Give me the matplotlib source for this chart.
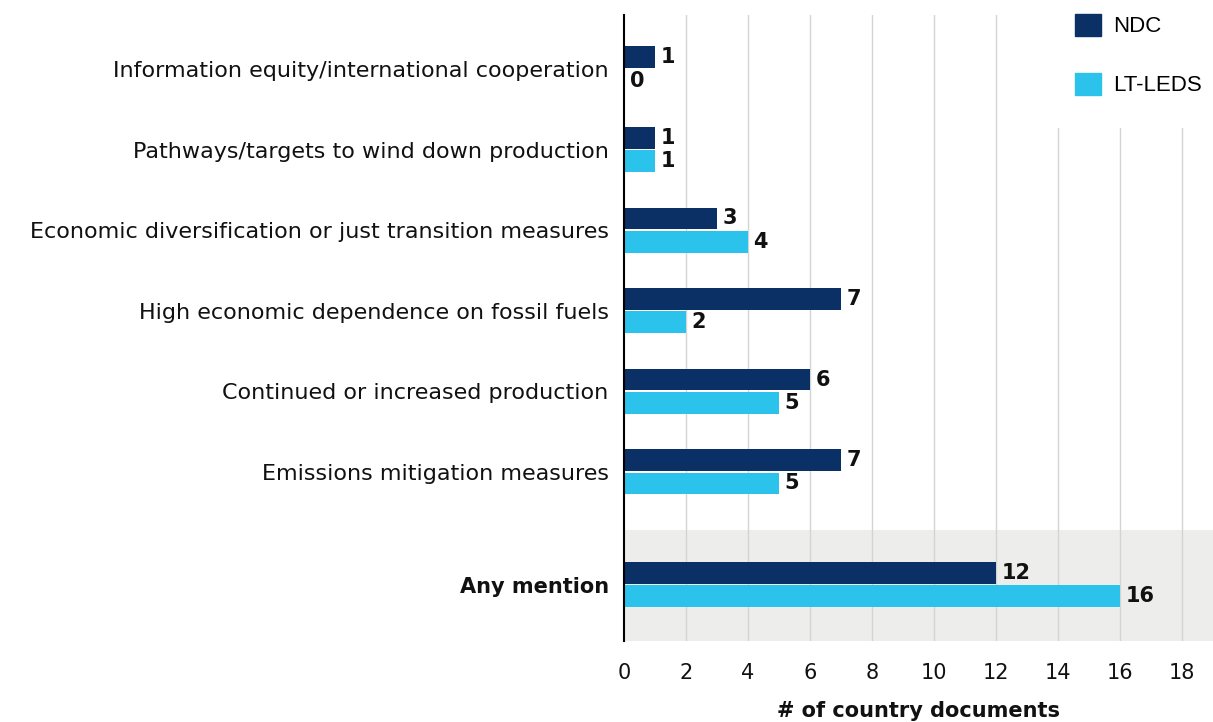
import matplotlib
matplotlib.use('Agg')
import matplotlib.pyplot as plt
import matplotlib.patches as mpatches
import numpy as np

# ── data ────────────────────────────────────────────────────────────────
categories = [
    'Information equity/international cooperation',
    'Pathways/targets to wind down production',
    'Economic diversification or just transition measures',
    'High economic dependence on fossil fuels',
    'Continued or increased production',
    'Emissions mitigation measures',
    'Any mention',
]
ndc = [1, 1, 3, 7, 6, 7, 12]
lt_leds = [0, 1, 4, 2, 5, 5, 16]
series_names = ['NDC', 'LT-LEDS']
xticks = [0, 2, 4, 6, 8, 10, 12, 14, 16, 18]

NDC_COL = '#0b3066'
LEDS_COL = '#2bc3eb'
FONT = 'DejaVu Sans'
FS = 15

fig = plt.figure(figsize=(12.13, 7.22), dpi=100)
ax = fig.add_axes([0.5144, 0.1122, 0.4856, 0.867])

# row positions: six rows one unit apart, "Any mention" set lower
ypos = np.array([0, 1, 2, 3, 4, 5, 6.4])
bh = 0.27
off = 0.145

ax.axhspan(5.72, 7.1, color='#ededeb', zorder=0, lw=0)
for x in xticks[1:]:
    ax.axvline(x, color='#d4d4d4', lw=1.0, zorder=0.5)
# white block behind the legend hides the top of the gridlines
ax.add_patch(mpatches.Rectangle((0.727, 0.8195), 0.3, 0.2, transform=ax.transAxes,
                                color='white', lw=0, zorder=1, clip_on=False))

ax.barh(ypos - off, ndc, height=bh, color=NDC_COL, zorder=2)
ax.barh(ypos + off, lt_leds, height=bh, color=LEDS_COL, zorder=2)

for y, v in zip(ypos - off, ndc):
    ax.annotate(str(v), xy=(v, y), xytext=(4, 0), textcoords='offset points',
                ha='left', va='center', fontsize=FS, fontweight='bold',
                family=FONT, color='#111111')
for y, v in zip(ypos + off, lt_leds):
    ax.annotate(str(v), xy=(v, y), xytext=(4, 0), textcoords='offset points',
                ha='left', va='center', fontsize=FS, fontweight='bold',
                family=FONT, color='#111111')

ax.set_xlim(0, 19)
ax.set_ylim(7.1, -0.67)
ax.set_yticks(ypos)
ax.set_yticklabels(categories, fontsize=16, family=FONT, color='#111111')
last = ax.get_yticklabels()[-1]
last.set_fontweight('bold')
last.set_fontsize(15)
ax.set_xticks(xticks)
ax.set_xticklabels([str(t) for t in xticks], fontsize=FS, family=FONT,
                   color='#111111')
ax.tick_params(axis='both', length=0)
ax.tick_params(axis='y', pad=11)
ax.tick_params(axis='x', pad=16)
ax.set_xlabel('# of country documents', fontsize=FS, fontweight='bold',
              family=FONT, labelpad=13, color='#111111')

for s in ['top', 'right', 'bottom']:
    ax.spines[s].set_visible(False)
ax.spines['left'].set_linewidth(1.5)
ax.spines['left'].set_color('black')
ax.spines['left'].set_zorder(3)

handles = [mpatches.Patch(color=NDC_COL, label=series_names[0]),
           mpatches.Patch(color=LEDS_COL, label=series_names[1])]
leg = ax.legend(handles=handles, loc='upper right', bbox_to_anchor=(1.005, 1.025),
                frameon=False,
                prop={'family': 'Liberation Sans', 'size': 16},
                handlelength=1.15, handleheight=1.15, labelspacing=1.6,
                handletextpad=0.55, borderpad=0.65, borderaxespad=0)
leg.set_zorder(5)

fig.savefig('out.png', dpi=100, facecolor='white')
